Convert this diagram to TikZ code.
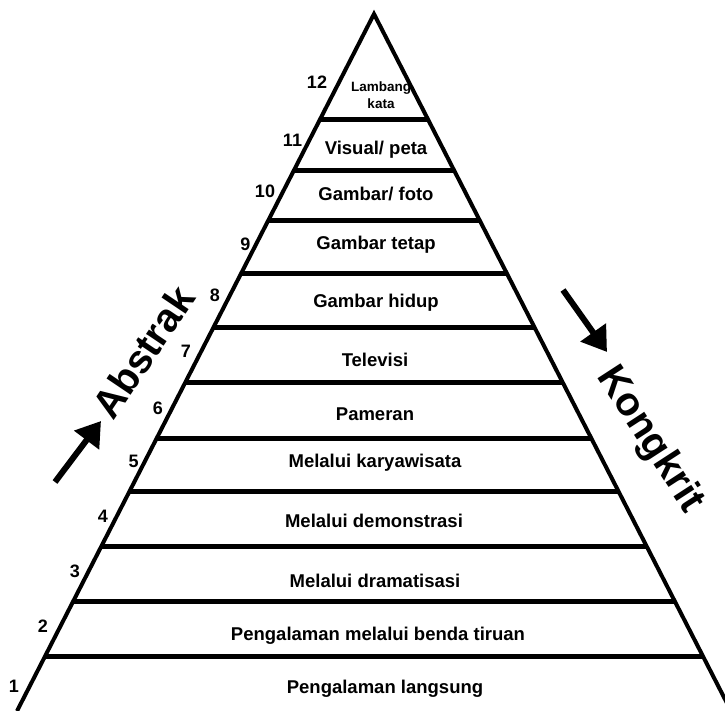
\documentclass[tikz,border=0pt]{standalone}
\usepackage{fontspec}
\setmainfont{Liberation Sans}
\usetikzlibrary{arrows.meta,calc}
\begin{document}
\begin{tikzpicture}[x=1pt,y=-1pt,
  lvl/.style={font=\fontsize{18.5}{20}\selectfont\bfseries, anchor=base, inner sep=0pt},
  num/.style={font=\fontsize{18}{20}\selectfont\bfseries, inner sep=0pt},
  side/.style={line width=4pt, line join=miter},
  band/.style={line width=5pt},
  bigarrow/.style={line width=6pt, -{Triangle[length=24pt,width=30pt]}},
  dirlabel/.style={font=\fontsize{40}{42}\selectfont\bfseries, inner sep=0pt}]
\useasboundingbox (0,0) rectangle (725,711);
\clip (0,0) rectangle (725,711);
\fill[white] (0,0) rectangle (725,711);
% pyramid
\coordinate (apex) at (374,14);
\coordinate (bl) at (17,711);
\coordinate (br) at (731,711);
\draw[side] (bl) -- (apex) -- (br);
\foreach \yy [count=\i] in {120,170.5,221,274,327.5,383,439,491.5,546.7,601.7,657}{
  \pgfmathsetmacro{\tt}{(\yy-14)/697}
  \coordinate (l\i) at ($(apex)!\tt!(bl)$);
  \coordinate (r\i) at ($(apex)!\tt!(br)$);
  \draw[band] (l\i) -- (r\i);
}
% level labels
\node[font=\fontsize{13.5}{16.6}\selectfont\bfseries, align=center, anchor=north, inner sep=0pt] (t12) at (381,81.7) {Lambang\\kata};
\node[lvl] (t11) at (376,155) {Visual/ peta};
\node[lvl] (t10) at (376,200.7) {Gambar/ foto};
\node[lvl] (t9) at (376,250) {Gambar tetap};
\node[lvl] (t8) at (376,307.7) {Gambar hidup};
\node[lvl] (t7) at (375,366) {Televisi};
\node[lvl] (t6) at (375,420.7) {Pameran};
\node[lvl] (t5) at (375,467) {Melalui karyawisata};
\node[lvl] (t4) at (374,527.3) {Melalui demonstrasi};
\node[lvl] (t3) at (375,587.3) {Melalui dramatisasi};
\node[lvl] (t2) at (378,640) {Pengalaman melalui benda tiruan};
\node[lvl] (t1) at (385,693.3) {Pengalaman langsung};
% numbers
\node[num] (n12) at (317,82.7) {12};
\node[num] (n11) at (292.5,140) {11};
\node[num] (n10) at (265,191) {10};
\node[num] (n9) at (245.5,244) {9};
\node[num] (n8) at (215,295) {8};
\node[num] (n7) at (186,351.7) {7};
\node[num] (n6) at (158,408.7) {6};
\node[num] (n5) at (133.7,461.7) {5};
\node[num] (n4) at (103,516) {4};
\node[num] (n3) at (75,571) {3};
\node[num] (n2) at (43,626) {2};
\node[num] (n1) at (14,686) {1};
% direction labels and arrows
\node[dirlabel, rotate=56] (abs) at (143,352) {Abstrak};
\node[dirlabel, rotate=-57] (kon) at (650,440) {Kongkrit};
\coordinate (a1) at (55,482);
\coordinate (a2) at (101,421);
\draw[bigarrow] (a1) -- (a2);
\coordinate (k1) at (563,290);
\coordinate (k2) at (607,352);
\draw[bigarrow] (k1) -- (k2);
\end{tikzpicture}
\end{document}
